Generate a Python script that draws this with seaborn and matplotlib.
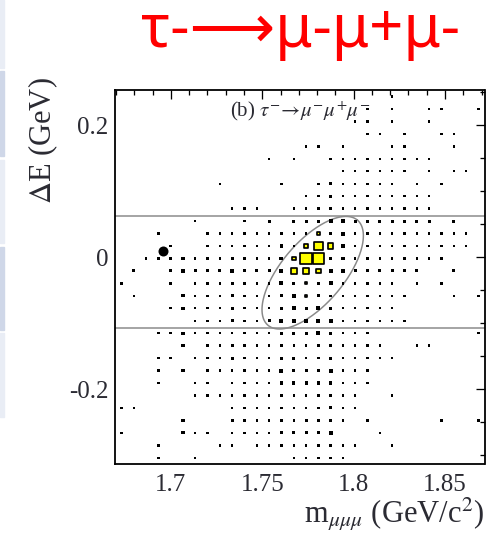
import numpy as np
import pandas as pd
import matplotlib
matplotlib.use("Agg")
import matplotlib.pyplot as plt
from matplotlib.patches import Rectangle
from matplotlib.ticker import MultipleLocator, FixedLocator
import seaborn as sns

# ---- binning of the scatter plane ------------------------------------------
m_lo, m_hi = 1.6696, 1.8716          # m_mumumu range (GeV/c^2)
de_lo, de_hi = -0.3137, 0.2532       # Delta E range (GeV)
n_bins = 30

# signal MC box content, one string per Delta E row from top to bottom
# ('.' = empty, digit = box size level)
mc_rows = [
    "......................1.......",
    "....................1.1..11..1",
    "...................11.1..1....",
    "....................11.1..11..",
    "...............11.1...11...1..",
    "............1.1..111111111....",
    "..................111111.1.11.",
    "........1....1..1211111.1.1...",
    "...............11211111111....",
    ".........111..111211111111....",
    "......1...1.2.222332222222.2..",
    "...1...111111211.231111111111.",
    "....1..11111121...21111111111.",
    "..111211121113...2211111111...",
    ".2..2322232223...33222222..2..",
    "1...1.111211132.2311111.1.1...",
    ".1...2111211123.21111111...1.1",
    "....1211121112323211111.......",
    "......111211233333111111......",
    "...112111111122232111........1",
    ".....2.112111211121111..11....",
    "...11.11121112211211111.......",
    "...1.2.11111132223111.........",
    "...1..11.111122222111.........",
    "......11111111111211..1.......",
    "11.......11111111211..........",
    ".....2...2111112221.1.....1..1",
    "1....211.111122223...1........",
    "...1....11.111111211..1.......",
    "...1..1.......11111...........",
]

# densest cells, drawn as highlighted boxes: column, row, content
hot_col = [16, 15, 16, 17, 14, 15, 16, 14, 15, 16, 15, 15]
hot_row = [11, 12, 12, 12, 13, 13, 13, 14, 14, 14, 15, 16]
hot_cnt = [9, 10, 18, 13, 10, 24, 22, 14, 15, 11, 7, 7]

# observed event
data_m = [1.6956]
data_de = [0.0087]

# Delta E band edges and the elliptical signal region
band_de = [0.062, -0.107]
ell_center = (1.7776, -0.0235)
ell_u = (0.0245, 0.0797)
ell_v = (-0.0130, 0.0307)

# ---- tables ------------------------------------------------------------------
dm = (m_hi - m_lo) / n_bins
dde = (de_hi - de_lo) / n_bins
m_centers = m_lo + (np.arange(n_bins) + 0.5) * dm
de_centers = de_hi - (np.arange(n_bins) + 0.5) * dde

recs = []
for j, row in enumerate(mc_rows):
    for i, ch in enumerate(row):
        if ch != ".":
            recs.append({"m": m_centers[i], "dE": de_centers[j], "level": int(ch)})
mc = pd.DataFrame(recs)

hot = pd.DataFrame({
    "m": m_centers[hot_col],
    "dE": de_centers[hot_row],
    "cnt": hot_cnt,
})

# ---- figure --------------------------------------------------------------------
sns.set_theme(style="white")
plt.rcParams["mathtext.fontset"] = "stix"
serif = ["Liberation Serif", "DejaVu Serif"]

W, H = 490, 535
fig = plt.figure(figsize=(W / 100, H / 100), dpi=100)
fig.patch.set_facecolor("white")

# slide table edge on the far left
strip = [(0, 68, "#e9edf5"), (71, 156, "#cfd7e8"), (160, 243, "#e9edf5"),
         (247, 330, "#cfd7e8"), (333, 417, "#e9edf5")]
for y0, y1, col in strip:
    fig.patches.append(Rectangle((0, 1 - y1 / H), 4 / W, (y1 - y0) / H,
                                 transform=fig.transFigure, color=col, zorder=0))

ax_l, ax_r, ax_t, ax_b = 115.3, 484.5, 90.3, 464.0
ax = fig.add_axes([ax_l / W, 1 - ax_b / H, (ax_r - ax_l) / W, (ax_b - ax_t) / H])
ax.set_facecolor("white")

px = 0.72  # points per pixel at 100 dpi

# black boxes
levels = sorted(mc["level"].unique())
side_px = {1: 2.4, 2: 3.1, 3: 3.9, 4: 4.6}
sns.scatterplot(data=mc, x="m", y="dE", size="level",
                sizes={k: (side_px[k] * px) ** 2 for k in levels},
                marker="s", color="black", linewidth=0, legend=False, ax=ax,
                zorder=3)

# highlighted boxes (size proportional to content, largest fills the cell)
edge_px = 1.7
full_px = 13.5
cmax = max(hot_cnt)
hot_sizes = {c: (max(c / cmax * full_px - edge_px, 1.0) * px) ** 2
             for c in sorted(set(hot_cnt))}
sns.scatterplot(data=hot, x="m", y="dE", size="cnt", sizes=hot_sizes,
                marker="s", color="#ffff00", edgecolor="black",
                linewidth=edge_px * px, legend=False, ax=ax, zorder=4)

# observed event
sns.scatterplot(x=data_m, y=data_de, marker="o", color="black", s=(10 * px) ** 2,
                linewidth=0, legend=False, ax=ax, zorder=5)

# Delta E band
for y in band_de:
    ax.axhline(y, color="#9c9c9c", lw=1.8 * px, zorder=2)

# signal ellipse
t = np.linspace(0, 2 * np.pi, 300)
ex = ell_center[0] + ell_u[0] * np.cos(t) + ell_v[0] * np.sin(t)
ey = ell_center[1] + ell_u[1] * np.cos(t) + ell_v[1] * np.sin(t)
ax.plot(ex, ey, color="#8a8a8a", lw=1.5 * px, zorder=2)

ax.set_xlim(m_lo, m_hi)
ax.set_ylim(de_lo, de_hi)

ax.xaxis.set_major_locator(FixedLocator([1.70, 1.75, 1.80, 1.85]))
ax.xaxis.set_minor_locator(MultipleLocator(0.01))
ax.yaxis.set_major_locator(FixedLocator([-0.2, 0.0, 0.2]))
ax.yaxis.set_minor_locator(MultipleLocator(0.05))
ax.set_xticklabels(["1.7", "1.75", "1.8", "1.85"])
ax.set_yticklabels(["-0.2", "0", "0.2"])

lab_col = "#2b2b33"
ax.tick_params(which="both", direction="in", top=True, right=True,
               color="black", width=1.3 * px, labelcolor=lab_col)
ax.tick_params(which="major", length=9 * px)
ax.tick_params(which="minor", length=5 * px)
ax.tick_params(axis="x", pad=7)
ax.tick_params(axis="y", pad=5)
for lab in ax.get_xticklabels() + ax.get_yticklabels():
    lab.set_family(serif)
    lab.set_fontsize(18)
for sp in ax.spines.values():
    sp.set_visible(True)
    sp.set_color("black")
    sp.set_linewidth(1.8 * px)
ax.set_xlabel("")
ax.set_ylabel("")

# in-plot caption
ax.text(0.5, 0.945, r"(b) $\tau^{-}\!\rightarrow\!\mu^{-}\mu^{+}\mu^{-}$",
        transform=ax.transAxes, ha="center", va="center",
        fontsize=15, family=serif, color="#2b2b33", zorder=6)

# axis titles
fig.text(484 / W, 1 - 514 / H, r"m$_{\mu\mu\mu}$ (GeV/c$^{2}$)",
         ha="right", va="center", fontsize=22, family=serif, color=lab_col)
fig.text(43 / W, 1 - 77 / H, r"$\Delta$E (GeV)", rotation=90,
         ha="center", va="top", fontsize=22, family=serif, color=lab_col)

# headline
fig.text(300 / W, 1 - 47 / H, "τ-⟶μ-μ+μ-", ha="center", va="baseline",
         fontsize=43, color="#ff0000", family=["Noto Sans", "DejaVu Sans"])

fig.savefig("out.png", dpi=100, facecolor="white")
